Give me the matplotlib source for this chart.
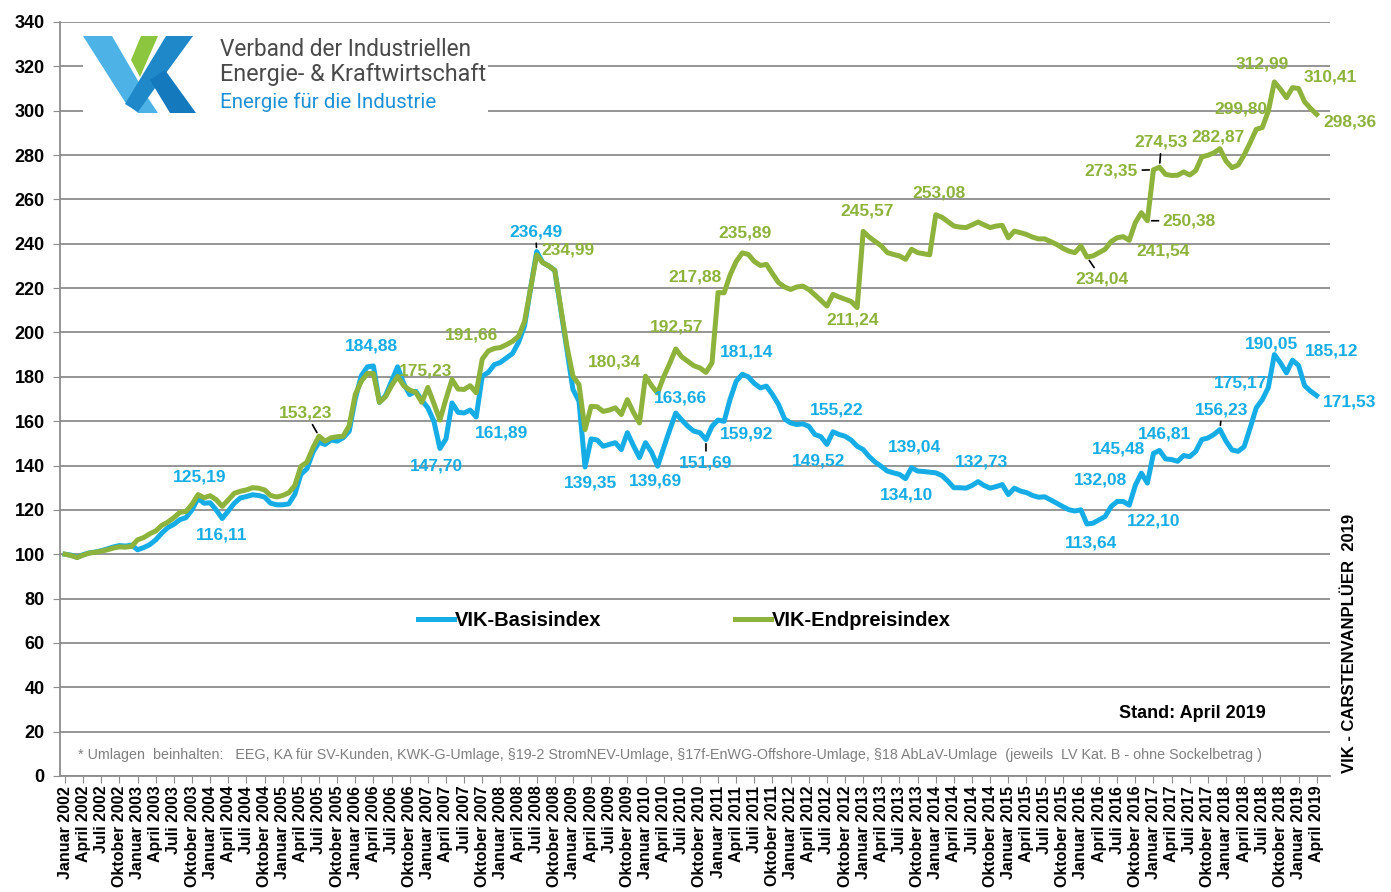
import matplotlib
matplotlib.use('Agg')
import matplotlib.pyplot as plt
from matplotlib.patches import Polygon, Rectangle

plt.rcParams['font.family'] = ['Liberation Sans', 'DejaVu Sans']

# VIK-Basisindex, monthly values Januar 2002 - April 2019
basisindex = [
    100.0, 99.6, 98.6, 99.8, 100.6, 101.0, 101.6, 102.4, 103.3, 103.9, 103.7, 104.1,       # 2002
    102.0, 103.0, 104.3, 106.5, 109.5, 112.0, 113.5, 115.6, 116.5, 120.0, 125.19, 123.0,   # 2003
    123.2, 120.0, 116.11, 119.5, 123.0, 125.4, 126.0, 126.8, 126.5, 125.8, 123.0, 122.3,   # 2004
    122.3, 122.7, 127.0, 136.0, 138.5, 146.0, 150.5, 149.5, 151.5, 151.0, 152.5, 155.5,    # 2005
    170.0, 180.5, 184.5, 184.88, 168.5, 171.5, 178.0, 184.5, 177.0, 172.0, 173.5, 169.5,   # 2006
    166.0, 160.0, 147.7, 152.0, 168.2, 164.0, 163.7, 165.0, 161.89, 180.3, 182.0, 185.5,   # 2007
    186.5, 188.5, 190.5, 195.5, 203.0, 220.0, 236.49, 231.5, 230.0, 228.0, 210.0, 192.0,   # 2008
    174.3, 169.0, 139.35, 152.0, 151.5, 148.7, 149.5, 150.3, 147.2, 154.8, 149.0, 143.6,   # 2009
    150.3, 146.0, 139.69, 148.0, 156.0, 163.66, 160.5, 157.7, 155.5, 154.8, 151.69, 157.7, # 2010
    160.5, 159.92, 170.0, 178.0, 181.14, 180.0, 177.0, 175.0, 175.8, 172.0, 167.5, 161.0,  # 2011
    159.2, 158.5, 158.8, 157.7, 154.0, 153.0, 149.52, 155.22, 154.0, 153.2, 151.5, 148.7,  # 2012
    147.2, 144.0, 141.5, 139.6, 137.5, 136.7, 136.0, 134.10, 139.04, 137.5, 137.3, 137.0,  # 2013
    136.7, 135.5, 133.0, 130.0, 130.0, 129.8, 131.0, 132.73, 131.0, 129.8, 130.5, 131.4,   # 2014
    126.9, 129.8, 128.5, 127.8, 126.5, 125.7, 125.9, 124.5, 123.0, 121.5, 120.1, 119.5,    # 2015
    120.0, 113.64, 114.0, 115.5, 117.0, 121.5, 123.8, 123.8, 122.10, 131.0, 136.6, 132.08, # 2016
    145.48, 146.81, 143.0, 142.7, 141.9, 144.5, 144.0, 146.4, 151.7, 152.4, 154.0, 156.23, # 2017
    151.0, 147.0, 146.4, 148.5, 157.0, 166.0, 169.7, 175.17, 190.05, 186.3, 181.8, 187.5,  # 2018
    185.12, 176.0, 173.5, 171.53,                                                          # 2019
]

# VIK-Endpreisindex, monthly values Januar 2002 - April 2019
endpreisindex = [
    100.0, 99.4, 98.5, 99.6, 100.5, 100.9, 101.4, 102.0, 102.8, 103.3, 103.2, 103.5,      # 2002
    106.5, 107.5, 109.2, 110.5, 113.0, 114.5, 116.5, 118.9, 119.3, 122.5, 126.9, 125.5,   # 2003
    126.4, 124.6, 121.6, 124.5, 127.5, 128.4, 129.0, 130.0, 129.8, 129.0, 126.5, 125.8,   # 2004
    126.5, 127.7, 131.0, 139.6, 141.5, 148.0, 153.23, 151.0, 152.5, 153.0, 153.2, 158.0,  # 2005
    172.0, 178.0, 181.5, 181.5, 168.5, 171.0, 176.0, 180.2, 176.0, 174.0, 173.0, 168.5,   # 2006
    175.23, 168.0, 160.5, 170.0, 178.8, 174.5, 174.3, 176.0, 172.8, 188.0, 191.66, 192.8, # 2007
    193.2, 194.5, 196.0, 198.3, 205.0, 220.0, 234.99, 231.5, 230.0, 228.0, 211.0, 193.8,  # 2008
    180.34, 176.5, 156.2, 166.7, 166.5, 164.4, 165.0, 166.0, 163.0, 169.7, 164.0, 159.2,  # 2009
    180.3, 176.0, 172.7, 180.0, 186.0, 192.57, 189.0, 187.0, 185.0, 184.0, 182.0, 186.3,  # 2010
    218.0, 217.88, 226.0, 232.0, 235.89, 235.2, 232.0, 230.2, 230.7, 226.5, 222.5, 220.5, # 2011
    219.4, 220.5, 220.9, 219.4, 217.0, 214.5, 211.9, 217.2, 216.0, 215.0, 214.0, 211.24,  # 2012
    245.57, 243.0, 241.0, 239.0, 236.0, 235.2, 234.5, 233.0, 237.5, 236.0, 235.5, 235.0,  # 2013
    253.08, 252.0, 250.0, 248.0, 247.5, 247.3, 248.5, 249.8, 248.5, 247.3, 248.0, 248.3,  # 2014
    242.7, 245.7, 245.0, 244.2, 243.0, 242.2, 242.2, 241.0, 239.7, 238.0, 236.7, 236.0,   # 2015
    239.0, 234.04, 234.5, 236.0, 237.5, 241.0, 242.7, 243.2, 241.54, 249.5, 254.0, 250.38, # 2016
    273.35, 274.53, 271.3, 270.8, 270.9, 272.4, 271.0, 273.0, 279.2, 279.9, 281.0, 282.87, # 2017
    277.3, 274.3, 275.5, 280.0, 285.6, 291.6, 292.4, 299.80, 312.99, 309.7, 305.9, 310.41, # 2018
    310.0, 304.0, 301.0, 298.36,                                                           # 2019
]

tick_months = ['Januar', 'April', 'Juli', 'Oktober']
years = list(range(2002, 2020))
tick_labels = [f'{m} {y}' for y in years for m in tick_months][:70]

# labelled points: (month index, label offset x px, label offset y px)
basis_labels = [(22, 2, 21), (26, -1, -16), (51, -2, 20), (62, -3, -18), (68, 25, -16),
                (78, -1, 20), (86, 5, -16), (98, -2, -15), (101, 5, 15), (106, 0, -23),
                (109, 22, -13), (112, 4, 22), (126, -8, -17), (127, 4, 22), (139, 1, -16),
                (140, 3, 21), (151, 3, 20), (169, 4, -19), (176, 24, -16), (179, -47, 3),
                (180, -35, 4), (181, 5, 16), (191, 2, 20), (199, -28, 5), (200, -3, 11),
                (204, 33, 14), (207, 33, -6)]
endpreis_labels = [(42, -13, 23), (60, -2, 16), (70, -17, 16), (78, 31, 5), (84, 41, 14),
                   (101, 1, 22), (109, -29, 16), (112, 3, 20), (131, -5, -12), (132, 4, 20),
                   (144, 3, 22), (169, 15, -22), (176, 34, -11), (179, 42, 0), (180, -42, -1),
                   (181, 2, 25), (191, -2, 12), (199, -27, 2), (200, -12, 18), (203, 38, 11),
                   (207, 33, -8)]
basis_leaders = {78, 106, 191}
endpreis_leaders = {42, 169, 179, 180, 181}

BLUE = '#16ADE6'
GREEN = '#8DB33D'
GRID = '#8c8c8c'

W, H = 1391, 892
fig = plt.figure(figsize=(W / 100, H / 100), dpi=100)
ax = fig.add_axes([60 / W, 1 - 776 / H, 1270 / W, 754 / H])

x = list(range(len(basisindex)))
l1, = ax.plot(x, basisindex, color=BLUE, lw=3.6, label='VIK-Basisindex',
              solid_joinstyle='round', zorder=3)
l2, = ax.plot(x, endpreisindex, color=GREEN, lw=3.6, label='VIK-Endpreisindex',
              solid_joinstyle='round', zorder=4)

ax.set_xlim(-0.83, 209.2)
ax.set_ylim(0, 340)
ax.set_yticks(range(0, 341, 20))
ax.set_xticks(range(0, len(x), 3))
ax.set_xticklabels(tick_labels, rotation=90, fontsize=11.5, fontweight='bold')
for lab in ax.get_yticklabels():
    lab.set_fontweight('bold')
    lab.set_fontsize(13)
ax.tick_params(axis='x', length=5, color=GRID, pad=2)
ax.tick_params(axis='y', length=5, color=GRID, pad=6)
ax.grid(axis='y', color=GRID, lw=1.3)
ax.set_axisbelow(True)
for s in ['top', 'right']:
    ax.spines[s].set_visible(False)
for s in ['left', 'bottom']:
    ax.spines[s].set_color(GRID)
    ax.spines[s].set_linewidth(1.3)


def add_labels(series, labels, leaders, color):
    for i, dx, dy in labels:
        v = series[i]
        txt = f'{v:.2f}'.replace('.', ',')
        arrow = None
        if i in leaders:
            arrow = dict(arrowstyle='-', color='black', lw=1.2, shrinkA=1, shrinkB=3)
        ax.annotate(txt, xy=(i, v), xytext=(dx, dy), textcoords='offset pixels',
                    ha='center', va='center', fontsize=12.5, fontweight='bold',
                    color=color, arrowprops=arrow, zorder=6)


add_labels(basisindex, basis_labels, basis_leaders, BLUE)
add_labels(endpreisindex, endpreis_labels, endpreis_leaders, GREEN)

ax.legend(handles=[l1, l2], loc='center left', bbox_to_anchor=(418 / W, 1 - 621 / H),
          bbox_transform=fig.transFigure, ncol=2, frameon=False,
          prop={'weight': 'bold', 'size': 14.5}, handlelength=1.8, handletextpad=0.05,
          columnspacing=6.6, borderpad=0, borderaxespad=0)


def px(xp, yp):
    return (xp / W, 1 - yp / H)


# logo box
fig.patches.append(Rectangle(px(83, 116), 405 / W, 88 / H, transform=fig.transFigure,
                             facecolor='white', edgecolor='none', zorder=5))
logo_shapes = [
    ([(83, 36), (112, 36), (148, 98), (158, 113), (138, 113), (125, 102)], '#4DB3E6'),
    ([(166, 36), (193, 36), (150, 95), (138, 112), (125, 104)], '#1E88C9'),
    ([(150, 80), (165, 70), (196, 113), (170, 113)], '#1479BD'),
    ([(141, 36), (158, 36), (140, 77), (131, 60)], '#8CC63E'),
]
for pts, col in logo_shapes:
    fig.patches.append(Polygon([px(*p) for p in pts], closed=True, transform=fig.transFigure,
                               facecolor=col, edgecolor='none', zorder=6))
fig.text(*px(220, 50), 'Verband der Industriellen', fontsize=16.3, color='#4a4a4a',
         va='center', family=['Roboto', 'DejaVu Sans'], zorder=7)
fig.text(*px(220, 75), 'Energie- & Kraftwirtschaft', fontsize=16.8, color='#4a4a4a',
         va='center', family=['Roboto', 'DejaVu Sans'], zorder=7)
fig.text(*px(220, 102), 'Energie für die Industrie', fontsize=14.8, color='#1E90D6',
         va='center', family=['Roboto', 'DejaVu Sans'], zorder=7)

fig.text(*px(78, 755), '* Umlagen  beinhalten:   EEG, KA für SV-Kunden, KWK-G-Umlage, '
         '§19-2 StromNEV-Umlage, §17f-EnWG-Offshore-Umlage, §18 AbLaV-Umlage  '
         '(jeweils  LV Kat. B - ohne Sockelbetrag )', fontsize=10.3, color='#7f7f7f', va='center')
fig.text(*px(1192, 713), 'Stand: April 2019', fontsize=13, fontweight='bold',
         ha='center', va='center')
fig.text(*px(1350, 643), 'VIK - CARSTENVANPLÜER  2019', fontsize=12, fontweight='bold',
         rotation=90, ha='center', va='center')

fig.savefig('out.png', dpi=100)
